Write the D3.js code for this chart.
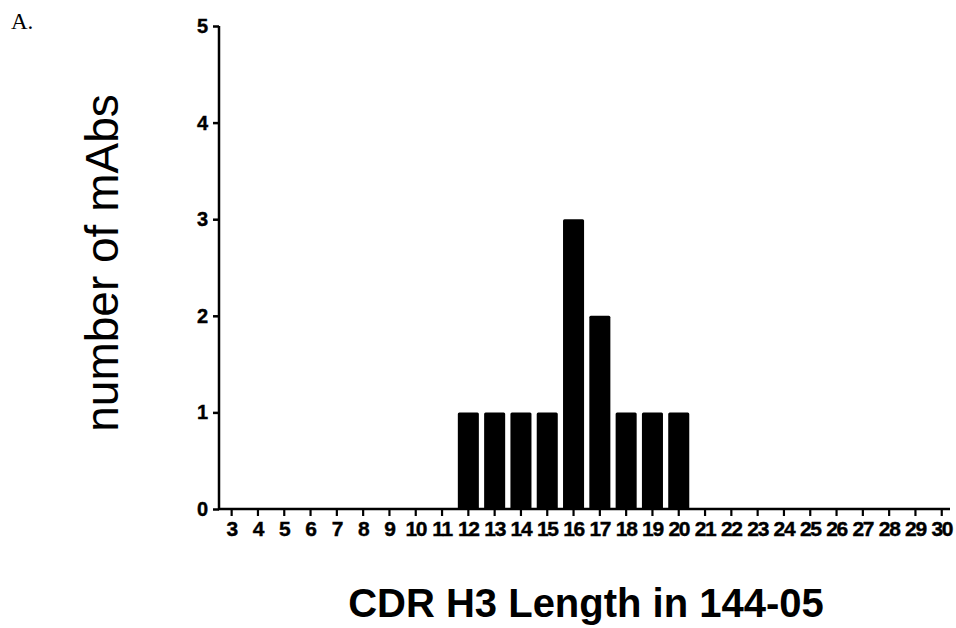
<!DOCTYPE html>
<html>
<head>
<meta charset="utf-8">
<script src="https://cdn.jsdelivr.net/npm/d3@7"></script>
<style>
  body { margin: 0; background: #fff; }
  svg { display: block; }
  text { font-family: "Liberation Sans", Arial, sans-serif; fill: #000; }
</style>
</head>
<body>
<svg id="chart" width="956" height="628"></svg>
<script>
      // CDR H3 lengths (x categories) and antibody counts
      const cdrLengths = d3.range(3, 31);
      const mabCounts = [0, 0, 0, 0, 0, 0, 0, 0, 0, 1, 1, 1, 1, 3, 2, 1, 1, 1, 0, 0, 0, 0, 0, 0, 0, 0, 0, 0];
      const yTicks = [0, 1, 2, 3, 4, 5];

      const svg = d3.select("#chart");
      const x = d3.scaleBand().domain(cdrLengths).range([218.5, 954.9]).paddingInner(0.2).paddingOuter(0.1);
      const y = d3.scaleLinear().domain([0, 5]).range([509, 26]);

      // bars
      svg.append("g")
        .selectAll("rect")
        .data(cdrLengths.map((len, i) => ({ len, count: mabCounts[i] })).filter((d) => d.count > 0))
        .join("rect")
        .attr("x", (d) => x(d.len))
        .attr("y", (d) => y(d.count))
        .attr("width", x.bandwidth())
        .attr("height", (d) => y(0) - y(d.count))
        .attr("rx", 1.5)
        .attr("fill", "#000");

      // y axis
      const yAxis = svg.append("g")
        .attr("transform", `translate(219,0)`)
        .call(d3.axisLeft(y).tickValues(yTicks).tickSize(6).tickPadding(5).tickFormat(d3.format("d")));
      yAxis.select(".domain").attr("d", `M0,${y(5)}V${y(0)}`).attr("stroke-width", 2.5);
      yAxis.selectAll(".tick line").attr("stroke-width", 2.5);
      yAxis.selectAll(".tick text")
        .attr("font-size", 20)
        .attr("font-weight", "bold")
        .attr("stroke", "#000")
        .attr("stroke-width", 0.4)
        .attr("font-family", "Liberation Sans, Arial, sans-serif");

      // x axis
      const xAxis = svg.append("g")
        .attr("transform", `translate(0,${y(0)})`)
        .call(d3.axisBottom(x).tickSize(7).tickPadding(5));
      xAxis.select(".domain").attr("d", "M218,0H950").attr("stroke-width", 2.5);
      xAxis.selectAll(".tick line").attr("stroke-width", 2.2);
      xAxis.selectAll(".tick text")
        .attr("font-size", 21)
        .attr("font-weight", "bold")
        .attr("letter-spacing", -1.3)
        .attr("stroke", "#000")
        .attr("stroke-width", 0.4)
        .attr("font-family", "Liberation Sans, Arial, sans-serif");

      // axis titles
      svg.append("text")
        .attr("transform", "translate(118,263) rotate(-90)")
        .attr("text-anchor", "middle")
        .attr("font-size", 46)
        .text("number of mAbs");

      svg.append("text")
        .attr("x", 586)
        .attr("y", 617)
        .attr("text-anchor", "middle")
        .attr("font-size", 40)
        .attr("font-weight", "bold")
        .text("CDR H3 Length in 144-05");

      svg.append("text")
        .attr("x", 11)
        .attr("y", 29)
        .attr("font-size", 23)
        .style("font-family", "'Liberation Serif', 'Times New Roman', serif")
        .text("A.");
</script>
</body>
</html>
